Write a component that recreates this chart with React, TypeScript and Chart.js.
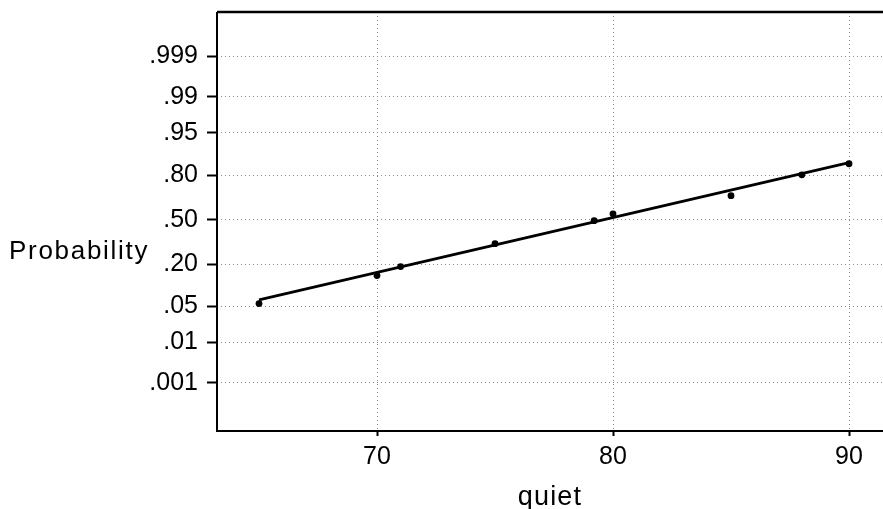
import React, { useEffect, useRef } from "react";
import { Chart, registerables } from "chart.js";

Chart.register(...registerables);

// Observed data: quiet values and their plotted cumulative probabilities
const quietValues = [65, 70, 71, 75, 79.2, 80, 85, 88, 90];
const probValues = [0.056, 0.145, 0.187, 0.325, 0.492, 0.544, 0.675, 0.802, 0.855];
// Fitted normal line (end points)
const fitQuiet = [65, 90];
const fitProb = [0.0645, 0.86];
// Axis ticks
const probTicks = [0.999, 0.99, 0.95, 0.8, 0.5, 0.2, 0.05, 0.01, 0.001];
const probTickLabels = [".999", ".99", ".95", ".80", ".50", ".20", ".05", ".01", ".001"];
const quietTicks = [70, 80, 90];
const xTitle = "quiet";
const yTitle = "Probability";

// inverse standard normal CDF (Acklam)
function probit(p: number): number {
  const a = [-3.969683028665376e1, 2.209460984245205e2, -2.759285104469687e2, 1.38357751867269e2, -3.066479806614716e1, 2.506628277459239];
  const b = [-5.447609879822406e1, 1.615858368580409e2, -1.556989798598866e2, 6.680131188771972e1, -1.328068155288572e1];
  const c = [-7.784894002430293e-3, -3.223964580411365e-1, -2.400758277161838, -2.549671010229297, 4.374664141464968, 2.938163982698783];
  const d = [7.784695709041462e-3, 3.224671290700398e-1, 2.445134137142996, 3.754408661907416];
  const plow = 0.02425;
  const phigh = 1 - plow;
  if (p < plow) {
    const q = Math.sqrt(-2 * Math.log(p));
    return (((((c[0] * q + c[1]) * q + c[2]) * q + c[3]) * q + c[4]) * q + c[5]) /
      ((((d[0] * q + d[1]) * q + d[2]) * q + d[3]) * q + 1);
  }
  if (p <= phigh) {
    const q = p - 0.5;
    const r = q * q;
    return ((((((a[0] * r + a[1]) * r + a[2]) * r + a[3]) * r + a[4]) * r + a[5]) * q) /
      (((((b[0] * r + b[1]) * r + b[2]) * r + b[3]) * r + b[4]) * r + 1);
  }
  const q = Math.sqrt(-2 * Math.log(1 - p));
  return -(((((c[0] * q + c[1]) * q + c[2]) * q + c[3]) * q + c[4]) * q + c[5]) /
    ((((d[0] * q + d[1]) * q + d[2]) * q + d[3]) * q + 1);
}

const FONT = '"Liberation Sans", Arial, Helvetica, sans-serif';

const framePlugin = {
  id: "frame",
  afterDraw(chart: any) {
    const { ctx, chartArea } = chart;
    const { left, right, top, bottom } = chartArea;
    ctx.save();
    ctx.strokeStyle = "#000";
    ctx.setLineDash([]);
    // top border
    ctx.lineWidth = 2.5;
    ctx.beginPath();
    ctx.moveTo(left, top);
    ctx.lineTo(right, top);
    ctx.stroke();
    // left axis
    ctx.lineWidth = 2;
    ctx.beginPath();
    ctx.moveTo(left, top);
    ctx.lineTo(left, bottom);
    ctx.stroke();
    // bottom axis
    ctx.beginPath();
    ctx.moveTo(left - 1, bottom);
    ctx.lineTo(right, bottom);
    ctx.stroke();

    // titles
    ctx.fillStyle = "#000";
    ctx.font = `26px ${FONT}`;
    (ctx as any).letterSpacing = "1.7px";
    ctx.textAlign = "left";
    ctx.textBaseline = "alphabetic";
    ctx.fillText(yTitle, 9, 259);

    ctx.font = `27px ${FONT}`;
    (ctx as any).letterSpacing = "1.2px";
    ctx.textAlign = "center";
    ctx.fillText(xTitle, 550, 505);
    (ctx as any).letterSpacing = "0px";
    ctx.restore();
  },
};

export default function App() {
  const ref = useRef<HTMLCanvasElement | null>(null);

  useEffect(() => {
    if (!ref.current) return;
    const points = quietValues.map((x, i) => ({ x, y: probit(probValues[i]) }));
    const fit = fitQuiet.map((x, i) => ({ x, y: probit(fitProb[i]) }));

    const chart = new Chart(ref.current, {
      type: "scatter",
      data: {
        datasets: [
          {
            label: "points",
            data: points,
            pointRadius: 3.4,
            pointBackgroundColor: "#000",
            pointBorderWidth: 0,
            showLine: false,
          },
          {
            label: "fit",
            data: fit,
            showLine: true,
            borderColor: "#000",
            borderWidth: 2.8,
            pointRadius: 0,
            fill: false,
          },
        ],
      },
      options: {
        animation: false,
        responsive: false,
        devicePixelRatio: 1,
        layout: { autoPadding: false, padding: { top: 12, left: 0, right: 0, bottom: 0 } },
        plugins: {
          legend: { display: false },
          tooltip: { enabled: false },
        },
        scales: {
          x: {
            type: "linear",
            min: 63.22,
            max: 91.44,
            afterFit(scale: any) {
              scale.height = 78;
              scale.paddingLeft = 0;
              scale.paddingRight = 0;
            },
            afterBuildTicks(scale: any) {
              scale.ticks = quietTicks.map((v) => ({ value: v }));
            },
            ticks: {
              autoSkip: false,
              maxRotation: 0,
              padding: 6,
              color: "#000",
              font: { family: FONT, size: 25 },
              callback: (v: any) => String(v),
            },
            grid: {
              color: "#8a8a8a",
              lineWidth: 1,
              drawTicks: true,
              tickLength: 5,
              tickWidth: 2,
              tickColor: "#000",
              tickBorderDash: [],
            },
            border: { display: false, dash: [1, 3] },
          },
          y: {
            type: "linear",
            min: -4.0,
            max: 3.93,
            afterFit(scale: any) {
              scale.width = 217;
              scale.paddingTop = 0;
              scale.paddingBottom = 0;
            },
            afterBuildTicks(scale: any) {
              scale.ticks = probTicks.map((p) => ({ value: probit(p) }));
            },
            ticks: {
              autoSkip: false,
              padding: 9,
              color: "#000",
              font: { family: FONT, size: 25 },
              callback: (_v: any, i: number) => probTickLabels[i],
            },
            grid: {
              color: "#8a8a8a",
              lineWidth: 1,
              drawTicks: true,
              tickLength: 10,
              tickWidth: 2,
              tickColor: "#000",
              tickBorderDash: [],
            },
            border: { display: false, dash: [1, 3] },
          },
        },
      },
      plugins: [framePlugin],
    } as any);

    return () => chart.destroy();
  }, []);

  return (
    <div
      style={{
        position: "fixed",
        left: 0,
        top: 0,
        width: 883,
        height: 509,
        background: "#fff",
        overflow: "hidden",
      }}
    >
      <canvas ref={ref} width={883} height={509} style={{ width: 883, height: 509, display: "block" }} />
    </div>
  );
}
